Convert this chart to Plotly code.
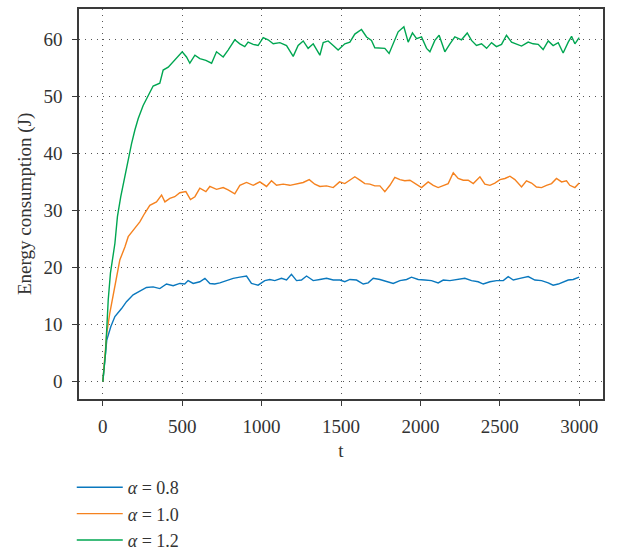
import plotly.graph_objects as go

# alpha = 0.8
t_08 = [0, 13, 25, 50, 76, 118, 149, 191, 233, 275, 317, 359, 401, 443, 485, 516, 537, 569, 611, 643, 674, 705, 737, 779, 821, 863, 905, 936, 978, 1020, 1052, 1083, 1125, 1157, 1188, 1220, 1251, 1283, 1325, 1367, 1409, 1451, 1493, 1524, 1556, 1598, 1640, 1671, 1703, 1745, 1787, 1829, 1871, 1913, 1944, 1986, 2028, 2070, 2112, 2144, 2186, 2228, 2280, 2322, 2364, 2396, 2438, 2480, 2522, 2553, 2585, 2627, 2679, 2721, 2763, 2805, 2836, 2868, 2899, 2931, 2962, 3000]
e_08 = [0, 3.2, 7.3, 9.6, 11.4, 12.8, 14.0, 15.2, 15.8, 16.5, 16.6, 16.3, 17.1, 16.8, 17.2, 17.1, 17.7, 17.2, 17.5, 18.1, 17.2, 17.1, 17.3, 17.7, 18.1, 18.3, 18.5, 17.2, 16.9, 17.7, 17.9, 17.7, 18.1, 17.8, 18.8, 17.7, 17.8, 18.5, 17.7, 17.9, 18.1, 17.8, 17.8, 17.5, 17.9, 17.8, 17.1, 17.3, 18.1, 17.9, 17.5, 17.2, 17.7, 17.9, 18.3, 17.9, 17.8, 17.7, 17.3, 17.8, 17.7, 17.9, 18.1, 17.7, 17.5, 17.1, 17.5, 17.7, 17.7, 18.4, 17.8, 18.1, 18.4, 17.8, 17.7, 17.3, 16.9, 17.1, 17.5, 17.8, 17.9, 18.3]

# alpha = 1.0
t_10 = [0, 13, 25, 44, 65, 86, 107, 139, 160, 202, 233, 264, 296, 338, 370, 391, 422, 453, 485, 523, 552, 580, 611, 649, 674, 716, 758, 789, 831, 863, 905, 947, 989, 1031, 1062, 1094, 1136, 1178, 1220, 1262, 1300, 1335, 1367, 1409, 1451, 1491, 1524, 1556, 1587, 1619, 1650, 1682, 1713, 1745, 1776, 1808, 1839, 1871, 1902, 1934, 1965, 2007, 2049, 2081, 2112, 2144, 2175, 2207, 2238, 2270, 2301, 2333, 2375, 2406, 2438, 2469, 2501, 2532, 2564, 2595, 2637, 2668, 2700, 2731, 2763, 2794, 2826, 2857, 2889, 2920, 2941, 2973, 3000]
e_10 = [0, 4.4, 8.5, 12.0, 14.9, 18.4, 21.3, 23.6, 25.4, 26.9, 28.0, 29.5, 30.9, 31.5, 32.7, 31.5, 32.1, 32.4, 33.1, 33.3, 31.9, 32.4, 33.9, 33.3, 34.2, 33.7, 34.0, 33.6, 32.9, 34.4, 34.9, 34.4, 35.0, 34.2, 35.2, 34.4, 34.6, 34.4, 34.6, 34.9, 35.4, 34.6, 34.2, 34.3, 34.0, 35.0, 34.7, 35.3, 35.9, 35.3, 34.7, 34.6, 34.3, 34.3, 33.3, 34.4, 35.8, 35.4, 35.2, 35.3, 34.7, 34.0, 35.0, 34.4, 34.0, 34.4, 34.7, 36.6, 35.6, 35.3, 35.3, 34.7, 35.9, 34.6, 34.4, 34.8, 35.4, 35.6, 36.0, 35.4, 34.1, 35.2, 34.8, 34.1, 34.0, 34.4, 34.7, 35.6, 35.0, 35.2, 34.4, 34.0, 34.8]

# alpha = 1.2
t_12 = [0, 17, 34, 48, 76, 92, 113, 139, 160, 181, 202, 223, 254, 286, 317, 359, 380, 412, 443, 475, 500, 527, 548, 580, 611, 649, 685, 716, 758, 789, 831, 863, 894, 915, 947, 978, 1010, 1041, 1073, 1115, 1157, 1199, 1230, 1262, 1293, 1325, 1367, 1388, 1419, 1451, 1482, 1524, 1556, 1587, 1629, 1661, 1692, 1713, 1745, 1776, 1803, 1829, 1860, 1896, 1923, 1950, 1976, 2007, 2039, 2060, 2091, 2118, 2154, 2186, 2217, 2259, 2295, 2322, 2353, 2385, 2417, 2448, 2479, 2511, 2542, 2574, 2605, 2637, 2679, 2710, 2742, 2773, 2805, 2836, 2868, 2899, 2931, 2952, 2973, 3000]
e_12 = [0, 5.0, 14.3, 19.0, 24.2, 28.9, 32.4, 35.9, 39.1, 41.7, 44.1, 46.1, 48.4, 50.2, 51.8, 52.3, 54.6, 55.1, 56.0, 56.9, 57.8, 56.9, 55.8, 57.2, 56.6, 56.3, 55.8, 57.8, 56.9, 58.1, 59.9, 59.2, 58.7, 59.5, 59.1, 58.9, 60.3, 59.9, 59.2, 59.4, 58.9, 57.0, 58.9, 59.7, 58.4, 59.2, 57.2, 59.4, 59.7, 58.9, 58.1, 59.2, 59.5, 60.9, 61.7, 60.4, 59.8, 58.5, 58.4, 58.4, 57.5, 59.2, 61.3, 62.2, 59.5, 61.1, 60.1, 60.4, 58.4, 57.8, 59.8, 60.7, 57.8, 59.2, 60.4, 59.9, 61.1, 59.8, 58.9, 59.2, 58.4, 59.4, 58.7, 59.1, 60.7, 59.5, 59.2, 58.8, 59.5, 59.2, 59.1, 58.2, 59.7, 58.9, 59.4, 57.6, 59.5, 60.5, 59.2, 60.3]

names = ["<i>α</i> = 0.8", "<i>α</i> = 1.0", "<i>α</i> = 1.2"]
colors = ["#0A78BE", "#F5821F", "#00A651"]
x_ticks = [0, 500, 1000, 1500, 2000, 2500, 3000]
y_ticks = [0, 10, 20, 30, 40, 50, 60]

FONT = "Liberation Serif"

fig = go.Figure()
for t, e, n, c in zip([t_08, t_10, t_12], [e_08, e_10, e_12], names, colors):
    fig.add_trace(go.Scatter(x=t, y=e, mode="lines", name=n,
                             line=dict(color=c, width=1.4)))

axis_common = dict(
    showline=True, linecolor="#3a3a3a", linewidth=1.5, mirror=True,
    ticks="outside", ticklen=5, tickwidth=1, tickcolor="#3a3a3a",
    showgrid=True, gridcolor="#555555", gridwidth=1, griddash="1px,5px",
    zeroline=False, automargin=False,
    tickfont=dict(family=FONT, size=19, color="#333333"),
)

fig.update_layout(
    width=624, height=552,
    margin=dict(l=79, r=21, t=9, b=153, autoexpand=False),
    paper_bgcolor="white", plot_bgcolor="white",
    font=dict(family=FONT, size=19, color="#333333"),
    xaxis=dict(range=[-150, 3150], tickvals=x_ticks,
               title=dict(text="t", font=dict(family=FONT, size=19), standoff=8),
               ticklabelstandoff=4, **axis_common),
    yaxis=dict(range=[-3.05, 65.3], tickvals=y_ticks,
               ticklabelstandoff=6, **axis_common),
    legend=dict(xref="container", yref="container", x=0.115, y=1 - 469 / 552,
                xanchor="left", yanchor="top", bgcolor="rgba(0,0,0,0)",
                itemwidth=46,
                font=dict(family=FONT, size=18, color="#333333")),
    showlegend=True,
    annotations=[dict(text="Energy consumption (J)", xref="paper", yref="paper",
                      x=-54 / 524, y=0.5, xanchor="center", yanchor="middle",
                      textangle=-90, showarrow=False,
                      font=dict(family=FONT, size=19, color="#333333"))],
)

fig.write_html("out.html")
